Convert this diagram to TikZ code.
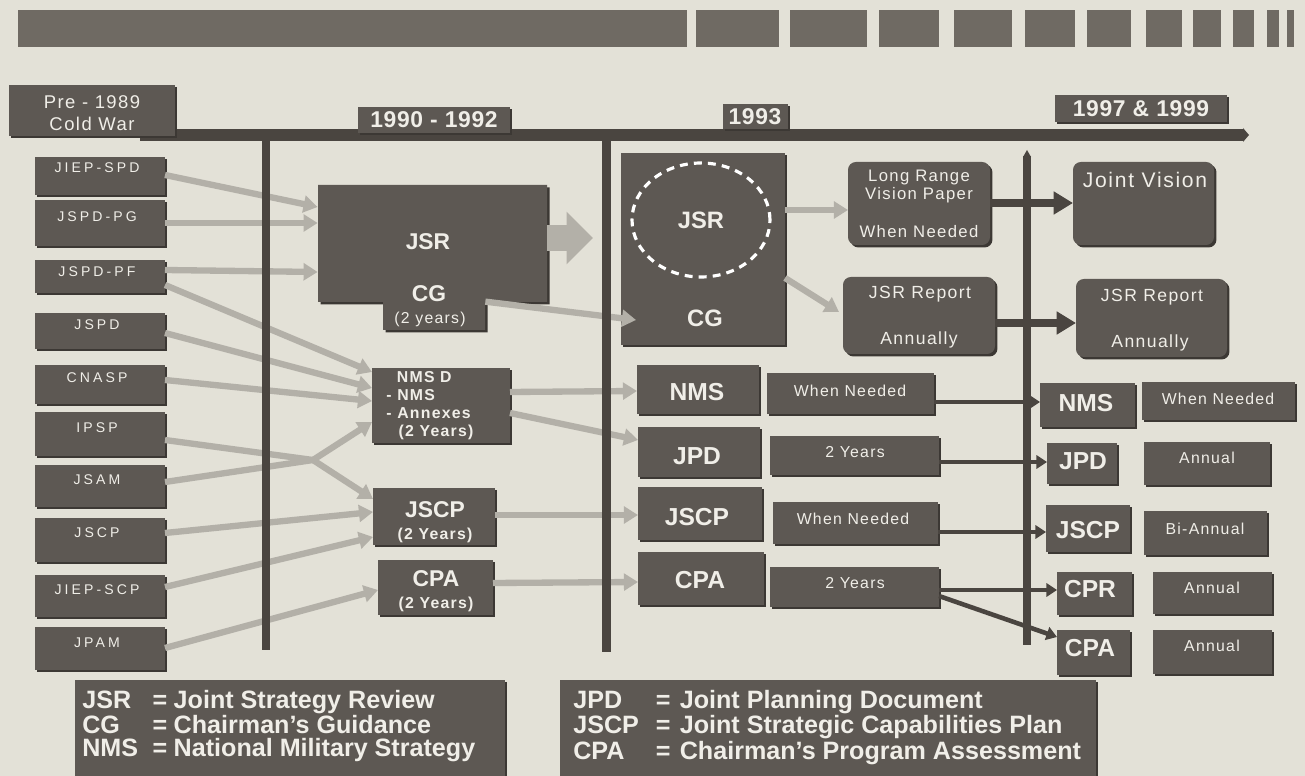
\documentclass[tikz,border=0pt]{standalone}
\usepackage{fontspec}
\setmainfont{Liberation Sans}
\newfontfamily\LSwide[LetterSpace=22]{Liberation Sans}
\newfontfamily\LSmd[LetterSpace=8]{Liberation Sans}
\newfontfamily\LSsl[LetterSpace=3]{Liberation Sans}
\usetikzlibrary{arrows.meta,shapes.geometric,fit,shadows,calc}
\definecolor{bgc}{HTML}{E3E1D7}
\definecolor{boxc}{HTML}{5D5853}
\definecolor{shc}{HTML}{3C3834}
\definecolor{linec}{HTML}{4A4540}
\definecolor{arrc}{HTML}{B3B0A8}
\definecolor{txtc}{HTML}{F0EEE8}
\definecolor{bandc}{HTML}{6F6A63}
\begin{document}
\begin{tikzpicture}[x=0.02cm,y=-0.02cm,
  box/.style={fill=boxc, inner sep=0pt, outer sep=0pt,
    drop shadow={shadow xshift=1.4pt,shadow yshift=-1.4pt,fill=shc,opacity=1}},
  rbox/.style={box, rounded corners=4.5pt},
  t/.style={text=txtc, inner sep=0pt},
  fs/.style={font=\LSwide\fontsize{8}{9}\selectfont},
  fm/.style={font=\LSmd\fontsize{9}{10}\selectfont},
  fmb/.style={font=\LSmd\bfseries\fontsize{9}{10.2}\selectfont},
  fb/.style={font=\bfseries\fontsize{13}{14}\selectfont},
  fbb/.style={font=\bfseries\fontsize{14}{15}\selectfont},
  ftl/.style={font=\LSsl\bfseries\fontsize{13}{14}\selectfont},
  fleg/.style={font=\bfseries\fontsize{14.3}{13}\selectfont},
  garrow/.style={draw=arrc, line width=3.6pt, line join=round, -{Triangle[width=9.5pt,length=8pt]}},
  darrow/.style={draw=linec, line width=2.6pt, -{Triangle[width=7.5pt,length=6pt]}},
  dbarrow/.style={draw=linec, line width=4pt, -{Triangle[width=12.5pt,length=11pt]}},
  bigarrow/.style={draw=arrc, line width=15pt, -{Triangle[width=29pt,length=15pt]}}]
\useasboundingbox (0,0) rectangle (1305,776);
\fill[bgc] (0,0) rectangle (1305,776);
% top band
\fill[bandc] (18,10) rectangle (687,47);
\foreach \a/\b in {696/779,790/867,879/939,954/1012,1025/1075,1087/1131,1146/1182,1193/1221,1233/1254,1267/1279,1287/1294}
  \fill[bandc] (\a,10) rectangle (\b,47);
% timeline bar
\fill[linec] (140,129) rectangle (1243,141);
\fill[linec] (1243,128) -- (1249,135) -- (1243,142) -- cycle;
% period labels
\node[box, fit={(9,85)(175,136)}] (pre) {};
\node[t, font=\LSmd\fontsize{10.5}{12}\selectfont] (pre-a) at (92,102) {Pre - 1989};
\node[t, font=\LSmd\fontsize{10.5}{12}\selectfont] (pre-b) at (92,124) {Cold War};
\node[box, fit={(358,107)(510,133)}] (p90) {};
\node[t, ftl] (p90-t) at (434,120) {1990 - 1992};
\node[box, fit={(723,104)(788,129)}] (p93) {};
\node[t, ftl] (p93-t) at (755,117) {1993};
\node[box, fit={(1055,95)(1227,122)}] (p97) {};
\node[t, ftl] (p97-t) at (1141,109) {1997 \& 1999};
% left column
\foreach \n/\s/\ya/\yb/\ty in {jiepspd/JIEP-SPD/157/195/168, jspdpg/JSPD-PG/200/246/217, jspdpf/JSPD-PF/260/293/272, jspd/JSPD/313/349/325, cnasp/CNASP/365/404/378, ipsp/IPSP/412/456/428, jsam/JSAM/465/507/480, jscpL/JSCP/518/562/533, jiepscp/JIEP-SCP/575/617/590, jpam/JPAM/627/670/643}
{
  \node[box, fit={(35,\ya)(165,\yb)}] (\n) {};
  \node[t, fs] (\n-t) at (97,\ty) {\s};
}
% 1990-1992 JSR/CG T-shape
\fill[shc] (320.5,187.5) -- (549.5,187.5) -- (549.5,304.5) -- (487.5,304.5) -- (487.5,332.5) -- (385.5,332.5) -- (385.5,304.5) -- (320.5,304.5) -- cycle;
\fill[boxc] (318,185) -- (547,185) -- (547,302) -- (485,302) -- (485,330) -- (383,330) -- (383,302) -- (318,302) -- cycle;
\node[fit={(318,185)(547,302)}, inner sep=0pt] (jsrT) {};
\node[fit={(383,302)(485,330)}, inner sep=0pt] (jsrtab) {};
\node[t, fb] (jsrT-a) at (428,242) {JSR};
\node[t, fb] (jsrT-b) at (429,294) {CG};
\node[t, fm] (jsrT-c) at (430,319) {(2 years)};
% 1990-1992 column
\node[box, fit={(372,368)(510,443)}] (nmsd) {};
\node[t, fmb, anchor=north west, align=left] (nmsd-t) at (386,371)
  {\hspace*{6pt}NMS D\\- NMS\\- Annexes\\\hspace*{7pt}(2 Years)};
\node[box, fit={(373,488)(495,545)}] (jscp90) {};
\node[t, fb] (jscp90-t) at (435,510) {JSCP};
\node[t, fmb] (jscp90-y) at (435,535) {(2 Years)};
\node[box, fit={(378,560)(493,615)}] (cpa90) {};
\node[t, fb] (cpa90-t) at (436,579) {CPA};
\node[t, fmb] (cpa90-y) at (436,604) {(2 Years)};
% 1993 big box
\node[box, fit={(621,153)(785,345)}] (jsr93) {};
\node[ellipse, draw=white, line width=1.8pt, dash pattern=on 4.5pt off 3.5pt,
  minimum width=2.76cm, minimum height=2.28cm, inner sep=0pt, text=txtc,
  font=\bfseries\fontsize{13.5}{15}\selectfont] (jsr93e) at (701,220) {JSR};
\node[t, font=\bfseries\fontsize{13.5}{15}\selectfont] (cg93) at (705,318) {CG};
% upper right rounded boxes
\node[rbox, fit={(848,162)(990,245)}] (lrvp) {};
\node[t, fm, font=\LSmd\fontsize{9.5}{10}\selectfont] (lrvp-a) at (919,177) {Long Range};
\node[t, font=\LSmd\fontsize{9.5}{10}\selectfont] (lrvp-b) at (919,195) {Vision Paper};
\node[t, font=\LSmd\fontsize{9.5}{10}\selectfont] (lrvp-c) at (919,232) {When Needed};
\node[rbox, fit={(1073,162)(1214,245)}] (jv) {};
\node[t, font=\LSmd\fontsize{12}{13}\selectfont] (jv-t) at (1145,180) {Joint Vision};
\node[rbox, fit={(843,277)(995,354)}] (jsrrL) {};
\node[t, font=\LSmd\fontsize{10}{11}\selectfont] (jsrrL-a) at (920,294) {JSR Report};
\node[t, font=\LSmd\fontsize{10}{11}\selectfont] (jsrrL-b) at (919,340) {Annually};
\node[rbox, fit={(1076,279)(1227,357)}] (jsrrR) {};
\node[t, font=\LSmd\fontsize{10}{11}\selectfont] (jsrrR-a) at (1152,297) {JSR Report};
\node[t, font=\LSmd\fontsize{10}{11}\selectfont] (jsrrR-b) at (1150,343) {Annually};
% 1993 column
\node[box, fit={(637,365)(759,414)}] (nms93) {};
\node[t, fbb] (nms93-t) at (697,392) {NMS};
\node[box, fit={(767,373)(934,414)}] (wn1) {};
\node[t, fm] (wn1-t) at (850,391) {When Needed};
\node[box, fit={(638,427)(760,477)}] (jpd93) {};
\node[t, fbb] (jpd93-t) at (697,456) {JPD};
\node[box, fit={(770,436)(939,475)}] (yrs1) {};
\node[t, fm] (yrs1-t) at (855,452) {2 Years};
\node[box, fit={(638,487)(762,540)}] (jscp93) {};
\node[t, fbb] (jscp93-t) at (697,517) {JSCP};
\node[box, fit={(773,502)(938,544)}] (wn2) {};
\node[t, fm] (wn2-t) at (853,519) {When Needed};
\node[box, fit={(638,552)(764,605)}] (cpa93) {};
\node[t, fbb] (cpa93-t) at (700,580) {CPA};
\node[box, fit={(770,567)(939,607)}] (yrs2) {};
\node[t, fm] (yrs2-t) at (855,583) {2 Years};
% right column
\node[box, fit={(1040,383)(1135,427)}] (nmsR) {};
\node[t, fbb] (nmsR-t) at (1086,403) {NMS};
\node[box, fit={(1142,382)(1295,420)}] (wnR) {};
\node[t, fm] (wnR-t) at (1218,399) {When Needed};
\node[box, fit={(1047,443)(1117,484)}] (jpdR) {};
\node[t, fbb] (jpdR-t) at (1083,461) {JPD};
\node[box, fit={(1144,442)(1270,485)}] (ann1) {};
\node[t, fm] (ann1-t) at (1207,458) {Annual};
\node[box, fit={(1046,505)(1130,552)}] (jscpR) {};
\node[t, fbb] (jscpR-t) at (1088,530) {JSCP};
\node[box, fit={(1144,511)(1267,555)}] (bian) {};
\node[t, fm] (bian-t) at (1205,529) {Bi-Annual};
\node[box, fit={(1057,572)(1132,615)}] (cprR) {};
\node[t, fbb] (cprR-t) at (1090,589) {CPR};
\node[box, fit={(1153,572)(1272,614)}] (ann2) {};
\node[t, fm] (ann2-t) at (1212,588) {Annual};
\node[box, fit={(1057,630)(1130,675)}] (cpaR) {};
\node[t, fbb] (cpaR-t) at (1090,648) {CPA};
\node[box, fit={(1153,630)(1272,674)}] (ann3) {};
\node[t, fm] (ann3-t) at (1212,646) {Annual};
% gray arrows
\coordinate (jn) at (313,460);
\draw[garrow] (jiepspd.east |- 0,175) -- (jsrT.west |- 0,207);
\draw[garrow] (jspdpg.east |- 0,223) -- (jsrT.west |- 0,223);
\draw[garrow] (jspdpf.east |- 0,270) -- (jsrT.west |- 0,272);
\draw[garrow] (jspdpf.east |- 0,285) -- (nmsd.west |- 0,372);
\draw[garrow] (jspd.east |- 0,333) -- (nmsd.west |- 0,388);
\draw[garrow] (cnasp.east |- 0,380) -- (nmsd.west |- 0,401);
\draw[garrow] (ipsp.east |- 0,440) -- (jn) -- (jscp90.west |- 0,499);
\draw[garrow] (jsam.east |- 0,482) -- (jn) -- (nmsd.west |- 0,422);
\draw[garrow] (jscpL.east |- 0,533) -- (jscp90.west |- 0,512);
\draw[garrow] (jiepscp.east |- 0,587) -- (jscp90.west |- 0,537);
\draw[garrow] (jpam.east |- 0,648) -- (cpa90.west |- 0,590);
\draw[garrow] (nmsd.east |- 0,392) -- (nms93.west |- 0,391);
\draw[garrow] (nmsd.east |- 0,413) -- (jpd93.west |- 0,440);
\draw[garrow] (jscp90.east |- 0,515) -- (jscp93.west |- 0,515);
\draw[garrow] (cpa90.east |- 0,583) -- (cpa93.west |- 0,582);
\draw[garrow] (jsrtab.north east) -- ($(jsr93.west |- 0,320)+(15,0)$);
\draw[garrow] (jsr93.east |- 0,210) -- (lrvp.west |- 0,210);
\draw[garrow] (jsr93.east |- 0,278) -- ($(jsrrL.west |- 0,312)+(-4,0)$);
\draw[bigarrow, shorten >=16pt] (jsrT.east |- 0,238) -- (jsr93.west |- 0,238);
% vertical lines
\fill[linec] (262,141) rectangle (270,650);
\fill[linec] (602,141) rectangle (611,652);
\fill[linec] (1023,156) rectangle (1031,645);
\fill[linec] (1023,157) -- (1027,150) -- (1031,157) -- cycle;
% dark arrows
\draw[dbarrow] (lrvp.east |- 0,203) -- (jv.west |- 0,203);
\draw[dbarrow] (jsrrL.east |- 0,323) -- (jsrrR.west |- 0,323);
\draw[darrow] (wn1.east |- 0,402) -- (nmsR.west |- 0,402);
\draw[darrow] (yrs1.east |- 0,462) -- (jpdR.west |- 0,462);
\draw[darrow] (wn2.east |- 0,532) -- (jscpR.west |- 0,532);
\draw[darrow] (yrs2.east |- 0,590) -- (cprR.west |- 0,590);
\draw[darrow] (yrs2.east |- 0,596) -- (cpaR.west |- 0,637);
% legends
\node[box, fit={(75,680)(505,780)}] (legL) {};
\node[t, fleg, anchor=north west, align=left] (legL-t) at (82,690)
  {\makebox[40pt][l]{JSR}\makebox[12pt][l]{=}Joint Strategy Review\\
   \makebox[40pt][l]{CG}\makebox[12pt][l]{=}Chairman’s Guidance\\
   \makebox[40pt][l]{NMS}\makebox[12pt][l]{=}National Military Strategy};
\node[box, fit={(560,680)(1096,780)}] (legR) {};
\node[t, fleg, anchor=north west, align=left] (legR-t) at (573,690)
  {\makebox[47pt][l]{JPD}\makebox[13.6pt][l]{=}Joint Planning Document\\
   \makebox[47pt][l]{JSCP}\makebox[13.6pt][l]{=}Joint Strategic Capabilities Plan\\
   \makebox[47pt][l]{CPA}\makebox[13.6pt][l]{=}Chairman’s Program Assessment};
\end{tikzpicture}
\end{document}
